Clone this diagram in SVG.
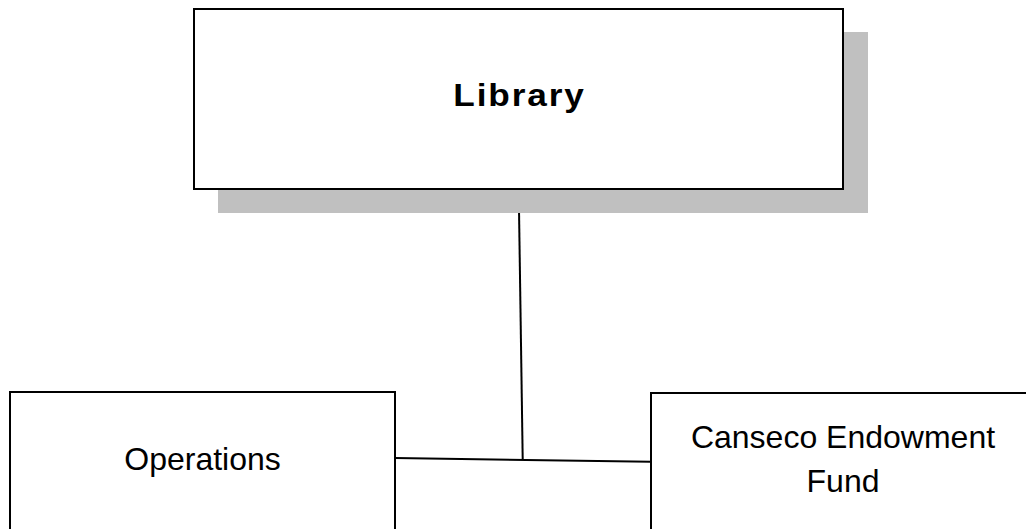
<svg xmlns="http://www.w3.org/2000/svg" width="1026" height="529" viewBox="0 0 1026 529">
  <style>
    .box { fill: #ffffff; stroke: #000000; stroke-width: 2; }
    .shadow { fill: #c0c0c0; stroke: none; }
    .label { font-family: "Liberation Sans", Arial, sans-serif; font-size: 32px; fill: #000000; text-anchor: middle; }
    .title { font-weight: bold; letter-spacing: 1.7px; }
    .link { fill: none; stroke: #000000; stroke-width: 2; }
  </style>
  <rect width="1026" height="529" fill="#ffffff"/>

  <!-- connectors -->
  <g id="connectors">
    <path class="link" d="M518.7 189 L522.7 459"/>
    <path class="link" d="M395 458 L651 461.7"/>
  </g>

  <!-- top node with drop shadow; title set slightly wide and tracked -->
  <g id="node-library">
    <rect class="shadow" x="218" y="32" width="650" height="181"/>
    <rect class="box" x="194" y="9" width="649" height="180"/>
    <text class="label title" transform="translate(519.5 105.5) scale(1.1 1)">Library</text>
  </g>

  <g id="node-operations">
    <rect class="box" x="10" y="392" width="385" height="150"/>
    <text class="label" x="202.5" y="470">Operations</text>
  </g>

  <g id="node-canseco">
    <rect class="box" x="651" y="393" width="390" height="150"/>
    <text class="label" x="843" y="448">Canseco Endowment</text>
    <text class="label" x="843" y="492">Fund</text>
  </g>
</svg>
